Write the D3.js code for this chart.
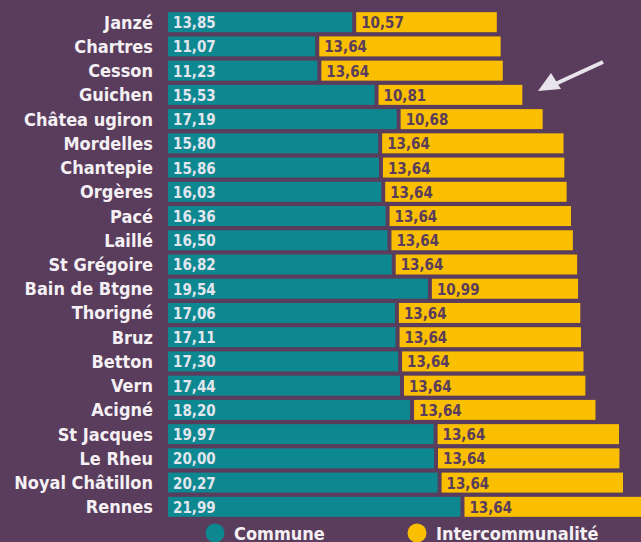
<!DOCTYPE html>
<html>
<head>
<meta charset="utf-8">
<script src="https://cdn.jsdelivr.net/npm/d3@7"></script>
<style>
  html, body { margin: 0; padding: 0; background: #5a3c5c; overflow: hidden; }
  svg { display: block; font-family: "DejaVu Sans Condensed", "DejaVu Sans", sans-serif; font-stretch: condensed; }
</style>
</head>
<body>
<script>
const communes = ["Janzé", "Chartres", "Cesson", "Guichen", "Châtea ugiron", "Mordelles", "Chantepie",
  "Orgères", "Pacé", "Laillé", "St Grégoire", "Bain de Btgne", "Thorigné", "Bruz", "Betton", "Vern",
  "Acigné", "St Jacques", "Le Rheu", "Noyal Châtillon", "Rennes"];
const communeRates = [13.85, 11.07, 11.23, 15.53, 17.19, 15.80, 15.86, 16.03, 16.36, 16.50, 16.82,
  19.54, 17.06, 17.11, 17.30, 17.44, 18.20, 19.97, 20.00, 20.27, 21.99];
const interRates = [10.57, 13.64, 13.64, 10.81, 10.68, 13.64, 13.64, 13.64, 13.64, 13.64, 13.64,
  10.99, 13.64, 13.64, 13.64, 13.64, 13.64, 13.64, 13.64, 13.64, 13.64];
const seriesNames = ["Commune", "Intercommunalité"];

const w = 641;
const h = 542;
const colors = ["#0e8890", "#f9bf00"];
const fmt = (v) => v.toFixed(2).replace(".", ",");

const rows = communes.map((c, i) => ({ name: c, a: communeRates[i], b: interRates[i] }));

const svg = d3.select("body").append("svg").attr("width", w).attr("height", h);

// Scales
const x = d3.scaleLinear().domain([0, 10]).range([168, 301]);
const y = d3.scaleBand().domain(communes).range([10, 519]).paddingInner(0.175).paddingOuter(0.09);

const gap = 4;

const row = svg.selectAll(".row").data(rows).enter().append("g").attr("class", "row")
  .attr("transform", (d) => `translate(0, ${y(d.name)})`);

row.append("rect")
  .attr("x", x(0))
  .attr("width", (d) => x(d.a) - x(0))
  .attr("height", y.bandwidth())
  .attr("fill", colors[0]);

row.append("rect")
  .attr("x", (d) => x(d.a) + gap)
  .attr("width", (d) => x(d.a + d.b) - x(d.a))
  .attr("height", y.bandwidth())
  .attr("fill", colors[1]);

// Labels
row.append("text")
  .attr("x", 153)
  .attr("y", y.bandwidth() / 2 + 6.5)
  .attr("text-anchor", "end")
  .attr("fill", "#f4f0f4")
  .attr("font-weight", "bold")
  .attr("font-size", 18)
  .text((d) => d.name);

row.append("text")
  .attr("x", x(0) + 5)
  .attr("y", y.bandwidth() / 2 + 6)
  .attr("fill", "#e2e6ee")
  .attr("font-weight", "bold")
  .attr("font-size", 15)
  .text((d) => fmt(d.a));

row.append("text")
  .attr("x", (d) => x(d.a) + gap + 5)
  .attr("y", y.bandwidth() / 2 + 6)
  .attr("fill", "#5a3c5c")
  .attr("font-weight", "bold")
  .attr("font-size", 15)
  .text((d) => fmt(d.b));

// Legend
const legendX = [215, 417];
const legend = svg.selectAll(".legend").data(seriesNames).enter().append("g").attr("class", "legend")
  .attr("transform", (d, i) => `translate(${legendX[i]}, 533)`);
legend.append("circle").attr("r", 9.5).attr("fill", (d, i) => colors[i]);
legend.append("text")
  .attr("x", 19)
  .attr("y", 7)
  .attr("fill", "#f4f0f4")
  .attr("font-weight", "bold")
  .attr("font-size", 18)
  .text((d) => d);

// Arrow pointing at Guichen
const arrow = svg.append("g").attr("fill", "#e8e4ec").attr("stroke", "#e8e4ec");
arrow.append("line").attr("x1", 603).attr("y1", 62).attr("x2", 553).attr("y2", 85).attr("stroke-width", 4);
arrow.append("path").attr("d", "M538,91 L551,73 L561,89 Z").attr("stroke", "none");
</script>
</body>
</html>
